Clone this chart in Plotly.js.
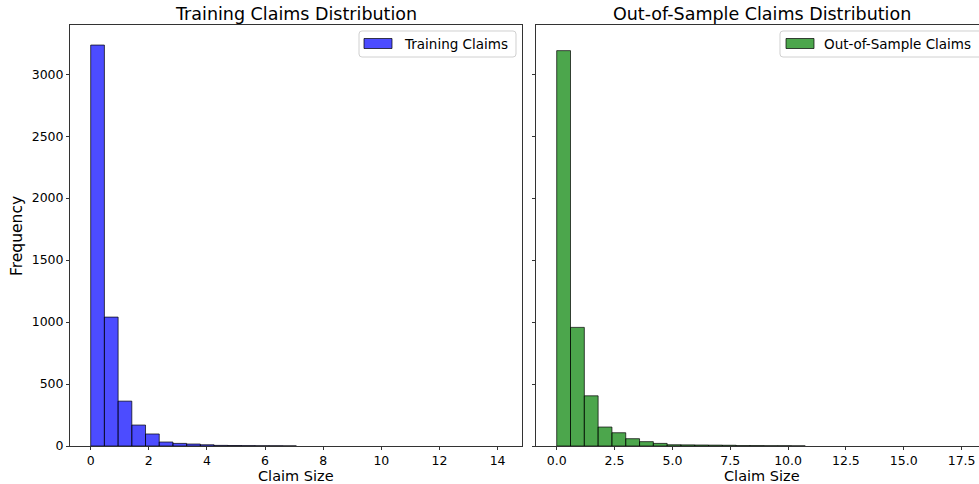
<!DOCTYPE html>
<html>
<head>
<meta charset="utf-8">
<script src="https://cdn.plot.ly/plotly-3.0.1.min.js"></script>
<style>
html,body{margin:0;padding:0;overflow:hidden;background:#fff;}
#chart{width:1000px;height:484px;}
</style>
</head>
<body>
<div id="chart"></div>
<script>
// Training claims histogram (30 bins, start 0)
const trainBinStart = 0;
const trainBinWidth = 0.4717;
const trainCounts = [3235, 1040, 362, 169, 97, 32, 21, 16, 10, 5, 4, 3, 2, 2, 1,
                     0, 0, 0, 0, 0, 0, 0, 0, 0, 0, 0, 0, 0, 0, 0];
// Out-of-sample claims histogram (30 bins, start 0)
const oosBinStart = 0;
const oosBinWidth = 0.5967;
const oosCounts = [3190, 957, 405, 153, 107, 59, 35, 21, 10, 9, 8, 7, 6, 3, 3, 2, 2, 1,
                   0, 0, 0, 0, 0, 0, 0, 0, 0, 0, 0, 0];

const leftTicks = [0, 2, 4, 6, 8, 10, 12, 14];
const rightTicks = [0, 2.5, 5, 7.5, 10, 12.5, 15, 17.5];
const yTicks = [0, 500, 1000, 1500, 2000, 2500, 3000];
const titles = ['Training Claims Distribution', 'Out-of-Sample Claims Distribution'];
const seriesNames = ['Training Claims', 'Out-of-Sample Claims'];
const colors = ['rgba(0,0,255,0.7)', 'rgba(0,128,0,0.7)'];

function centers(start, w, n){ const a=[]; for(let i=0;i<n;i++) a.push(start + w*(i+0.5)); return a; }
const nonEmpty = arr => arr.map(v => v === 0 ? null : v);

// pixel -> paper helpers (plot area: x 70..997, y 25..446)
const PL=70, PW=927, PB=446, PH=421;
const px = v => (v-PL)/PW;
const py = v => (PB-v)/PH;
function roundRect(x0,y0,x1,y1,r){
  const X=v=>px(v).toFixed(5), Y=v=>py(v).toFixed(5);
  return `M${X(x0+r)},${Y(y0)} L${X(x1-r)},${Y(y0)} Q${X(x1)},${Y(y0)} ${X(x1)},${Y(y0+r)} `+
         `L${X(x1)},${Y(y1-r)} Q${X(x1)},${Y(y1)} ${X(x1-r)},${Y(y1)} L${X(x0+r)},${Y(y1)} `+
         `Q${X(x0)},${Y(y1)} ${X(x0)},${Y(y1-r)} L${X(x0)},${Y(y0+r)} Q${X(x0)},${Y(y0)} ${X(x0+r)},${Y(y0)} Z`;
}

const FONT = 'DejaVu Sans, sans-serif';
const axisCommon = {
  showgrid:false, zeroline:false, showline:true, mirror:true,
  linecolor:'#333', linewidth:1, ticks:'outside', ticklen:3, tickcolor:'#333',
  tickfont:{family:FONT, size:12.5, color:'#000'}
};

const traces = [
  {type:'bar', x:centers(trainBinStart, trainBinWidth, trainCounts.length), y:nonEmpty(trainCounts),
   width:trainBinWidth, name:seriesNames[0], xaxis:'x', yaxis:'y',
   marker:{color:colors[0], line:{color:'rgba(0,0,0,0.7)', width:1}}, showlegend:false},
  {type:'bar', x:centers(oosBinStart, oosBinWidth, oosCounts.length), y:nonEmpty(oosCounts),
   width:oosBinWidth, name:seriesNames[1], xaxis:'x2', yaxis:'y2',
   marker:{color:colors[1], line:{color:'rgba(0,0,0,0.7)', width:1}}, showlegend:false}
];

const yMax = 3235*1.05;
const shapes = [
  {type:'path', xref:'paper', yref:'paper', path:roundRect(359,31,516,57,3),
   fillcolor:'rgba(255,255,255,0.8)', line:{color:'#d0d0d0', width:1}},
  {type:'rect', xref:'paper', yref:'paper', x0:px(364), x1:px(392), y0:py(48.5), y1:py(38.5),
   fillcolor:colors[0], line:{color:'rgba(0,0,0,0.7)', width:1}},
  {type:'path', xref:'paper', yref:'paper', path:roundRect(780,31,990,57,3),
   fillcolor:'rgba(255,255,255,0.8)', line:{color:'#d0d0d0', width:1}},
  {type:'rect', xref:'paper', yref:'paper', x0:px(786), x1:px(814), y0:py(48.5), y1:py(38.5),
   fillcolor:colors[1], line:{color:'rgba(0,0,0,0.7)', width:1}}
];

const ann = (text, x, y, size, extra) => Object.assign({text, xref:'paper', yref:'paper',
  x:px(x), y:py(y), showarrow:false, borderpad:0, font:{family:FONT, size, color:'#000'}}, extra||{});

const annotations = [
  ann(titles[0], 296, 14, 17.5, {xanchor:'center', yanchor:'middle'}),
  ann(titles[1], 762, 14, 17.5, {xanchor:'center', yanchor:'middle'}),
  ann('Claim Size', 296, 476.5, 14.5, {xanchor:'center', yanchor:'middle'}),
  ann('Claim Size', 762, 476.5, 14.5, {xanchor:'center', yanchor:'middle'}),
  ann('Frequency', 17, 236, 15.5, {xanchor:'center', yanchor:'middle', textangle:-90}),
  ann(seriesNames[0], 403, 44, 13.5, {xanchor:'left', yanchor:'middle'}),
  ann(seriesNames[1], 823, 44, 13.5, {xanchor:'left', yanchor:'middle'})
];

const layout = {
  width:1000, height:484,
  margin:{l:70, r:3, t:25, b:38},
  paper_bgcolor:'#fff', plot_bgcolor:'#fff',
  bargap:0, showlegend:false,
  font:{family:FONT, color:'#000'},
  xaxis:Object.assign({}, axisCommon, {domain:[0, 0.4876], range:[-0.712, 14.84],
    tickvals:leftTicks, ticktext:leftTicks.map(String)}),
  yaxis:Object.assign({}, axisCommon, {domain:[0,1], range:[0, yMax],
    tickvals:yTicks, ticktext:yTicks.map(String)}),
  xaxis2:Object.assign({}, axisCommon, {domain:[0.5027, 1], range:[-0.895, 19.03], anchor:'y2',
    tickvals:rightTicks, ticktext:rightTicks.map(v=>v.toFixed(1))}),
  yaxis2:Object.assign({}, axisCommon, {domain:[0,1], range:[0, yMax], anchor:'x2',
    tickvals:yTicks, showticklabels:false}),
  shapes, annotations
};

Plotly.newPlot('chart', traces, layout, {displayModeBar:false, staticPlot:true});
</script>
</body>
</html>
